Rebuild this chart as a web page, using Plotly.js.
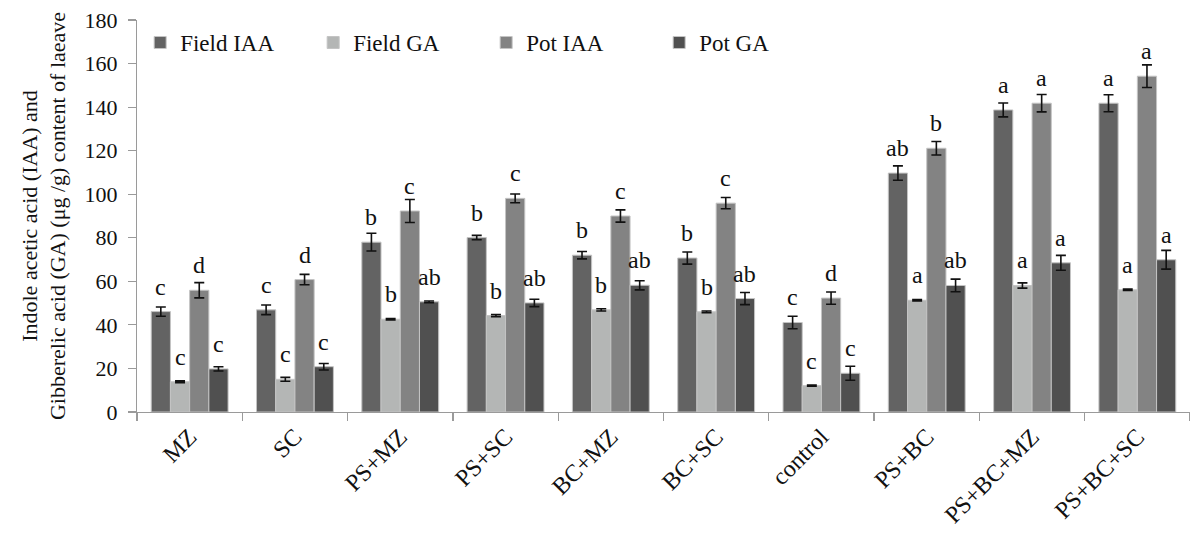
<!DOCTYPE html>
<html>
<head>
<meta charset="utf-8">
<script src="https://cdn.plot.ly/plotly-3.0.1.min.js"></script>
<style>html,body{margin:0;padding:0;background:#fff;}#chart{width:1190px;height:535px;}</style>
</head>
<body>
<div id="chart"></div>
<script>
var categories = ["MZ", "SC", "PS+MZ", "PS+SC", "BC+MZ", "BC+SC", "control", "PS+BC", "PS+BC+MZ", "PS+BC+SC"];

var fieldIAA    = [46.1, 46.9, 78.0, 80.1, 72.0, 70.7, 41.1, 109.7, 138.7, 141.8];
var fieldIAAErr = [2.1, 2.2, 4.1, 1.0, 1.7, 2.8, 2.9, 3.3, 3.2, 3.9];
var fieldGA     = [13.9, 15.0, 42.6, 44.3, 46.9, 46.0, 12.1, 51.3, 58.1, 56.1];
var fieldGAErr  = [0.4, 0.9, 0.3, 0.5, 0.5, 0.4, 0.3, 0.3, 1.2, 0.3];
var potIAA      = [55.9, 60.8, 92.3, 98.1, 90.0, 95.9, 52.3, 121.1, 141.8, 154.2];
var potIAAErr   = [3.5, 2.4, 5.3, 2.0, 2.8, 2.6, 2.8, 3.1, 4.0, 5.2];
var potGA       = [19.8, 20.8, 50.6, 50.1, 58.2, 52.1, 17.8, 58.1, 68.5, 69.9];
var potGAErr    = [1.0, 1.5, 0.4, 1.7, 2.1, 2.8, 3.2, 2.9, 3.4, 4.3];

var fieldIAALetters = ["c", "c", "b", "b", "b", "b", "c", "ab", "a", "a"];
var fieldGALetters  = ["c", "c", "b", "b", "b", "b", "c", "a", "a", "a"];
var potIAALetters   = ["d", "d", "c", "c", "c", "c", "d", "b", "a", "a"];
var potGALetters    = ["c", "c", "ab", "ab", "ab", "ab", "c", "ab", "a", "a"];

var seriesNames = ["Field IAA", "Field GA", "Pot IAA", "Pot GA"];
var seriesColors = ["#636363", "#b4b6b5", "#838383", "#505050"];

var FONT = '"Liberation Serif", "Times New Roman", Times, serif';
var values = [fieldIAA, fieldGA, potIAA, potGA];
var errs = [fieldIAAErr, fieldGAErr, potIAAErr, potGAErr];
var letters = [fieldIAALetters, fieldGALetters, potIAALetters, potGALetters];

var bargap = 0.27;
var traces = values.map(function (v, s) {
  return {
    type: 'bar',
    name: seriesNames[s],
    x: categories,
    y: v,
    marker: {color: seriesColors[s], line: {color: '#c4c4c4', width: 1}},
    error_y: {type: 'data', array: errs[s], visible: true, color: '#111', thickness: 1.6, width: 5},
    hoverinfo: 'x+y+name'
  };
});

var groupW = 1 - bargap;
var barW = groupW / 4;
var annotations = [];
for (var s = 0; s < 4; s++) {
  var off = -groupW / 2 + barW * (s + 0.5);
  for (var i = 0; i < categories.length; i++) {
    annotations.push({
      x: i + off, y: values[s][i], xref: 'x', yref: 'y',
      text: letters[s][i], showarrow: false,
      yanchor: 'bottom', yshift: 10,
      font: {family: FONT, size: 24, color: '#111'}
    });
  }
}

var layout = {
  width: 1190, height: 535,
  margin: {l: 137, r: 0, t: 20, b: 123},
  paper_bgcolor: '#fff', plot_bgcolor: '#fff',
  font: {family: FONT, color: '#111'},
  barmode: 'group', bargap: bargap, bargroupgap: 0,
  showlegend: true,
  legend: {
    orientation: 'h', x: 0.003, xanchor: 'left', y: 0.9425, yanchor: 'middle',
    font: {family: FONT, size: 23, color: '#111'},
    entrywidthmode: 'pixels', entrywidth: 128,
    bgcolor: 'rgba(0,0,0,0)', traceorder: 'normal'
  },
  xaxis: {
    type: 'category', tickangle: -45, tickson: 'boundaries',
    ticks: 'outside', ticklen: 8, tickcolor: '#9a9a9a', tickwidth: 1.2,
    showline: true, linecolor: '#9a9a9a', linewidth: 1.2,
    showgrid: false, zeroline: false,
    tickfont: {family: FONT, size: 24, color: '#111'}
  },
  yaxis: {
    range: [0, 180], dtick: 20, tick0: 0,
    ticks: 'outside', ticklen: 8, tickcolor: '#9a9a9a', tickwidth: 1.2,
    showline: true, linecolor: '#9a9a9a', linewidth: 1.2,
    showgrid: false, zeroline: false,
    tickfont: {family: FONT, size: 22, color: '#111'},
    ticklabelstandoff: 6,
    title: {text: 'Indole acetic acid (IAA) and<br>Gibberelic acid (GA) (μg /g) content of laeave',
            font: {family: FONT, size: 22, color: '#111'}, standoff: 12}
  },
  annotations: annotations
};

Plotly.newPlot('chart', traces, layout, {displayModeBar: false, staticPlot: true});
</script>
</body>
</html>
